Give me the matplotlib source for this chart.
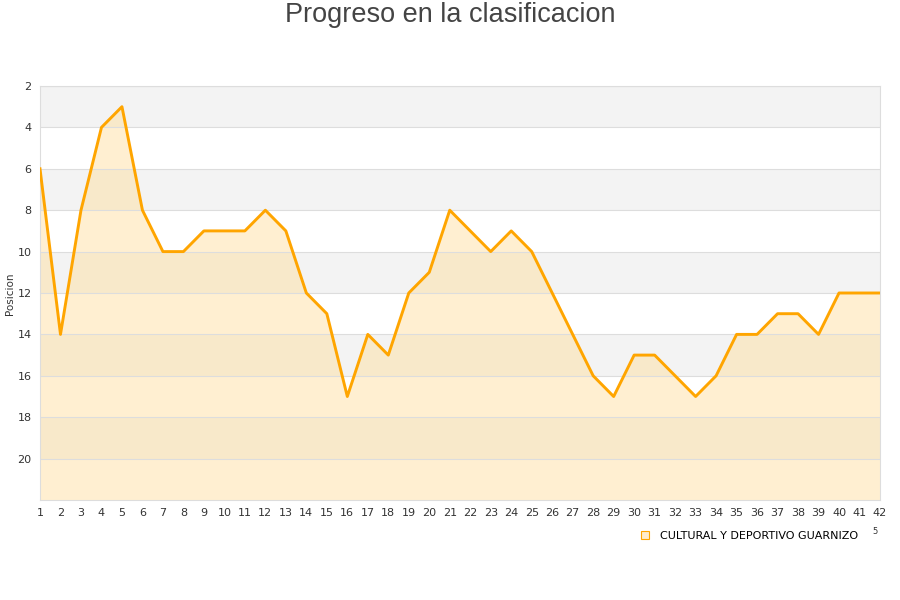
import numpy as np
import matplotlib.pyplot as plt
from matplotlib.lines import Line2D

jornadas = list(range(1, 43))
posicion = [6, 14, 8, 4, 3, 8, 10, 10, 9, 9, 9, 8, 9, 12, 13, 17, 14, 15, 12, 11,
            8, 9, 10, 9, 10, 12, 14, 16, 17, 15, 15, 16, 17, 16, 14, 14, 13, 13, 14, 12,
            12, 12]
y_ticks = [2, 4, 6, 8, 10, 12, 14, 16, 18, 20]
equipo = 'CULTURAL Y DEPORTIVO GUARNIZO'

fig = plt.figure(figsize=(9, 6), dpi=100)
ax = fig.add_axes([40 / 900, 100 / 600, 840 / 900, 414 / 600])

# alternating background bands
for lo in range(2, 22, 4):
    ax.axhspan(lo, lo + 2, color='#f3f3f3', zorder=0, lw=0)

ax.fill_between(jornadas, posicion, 22, color='#ffdd99', alpha=0.45, lw=0, zorder=1)
ax.plot(jornadas, posicion, color='#ffa500', lw=2.1, zorder=3)

ax.set_xlim(1, 42)
ax.set_ylim(22, 2)
ax.set_xticks(jornadas)
ax.set_yticks(y_ticks)
ax.grid(axis='y', color='#dddddd', lw=0.8, zorder=2)
ax.set_axisbelow(False)
ax.tick_params(length=0, labelsize=8, colors='#333333', pad=6)
for s in ax.spines.values():
    s.set_color('#dddddd')

fig.text(10 / 900, 1 - 294 / 600, 'Posicion', rotation=90, fontsize=7.5,
         color='#333333', ha='center', va='center')

fig.text(0.5, 1 - 15 / 600, 'Progreso en la clasificacion', ha='center', va='center',
         fontsize=19.5, color='#444444', family='Liberation Sans')

handle = Line2D([], [], marker='s', ls='none', markersize=6,
                markerfacecolor='#ffedcc', markeredgecolor='#ffa500', markeredgewidth=0.8)
fig.legend([handle], [equipo], loc='center left', bbox_to_anchor=(629 / 900, 1 - 536 / 600),
           frameon=False, fontsize=8, handletextpad=0.4, borderaxespad=0)
fig.text(875 / 900, 1 - 531 / 600, '5', fontsize=6, color='#333333', ha='center', va='center')

fig.savefig('out.png', dpi=100)
